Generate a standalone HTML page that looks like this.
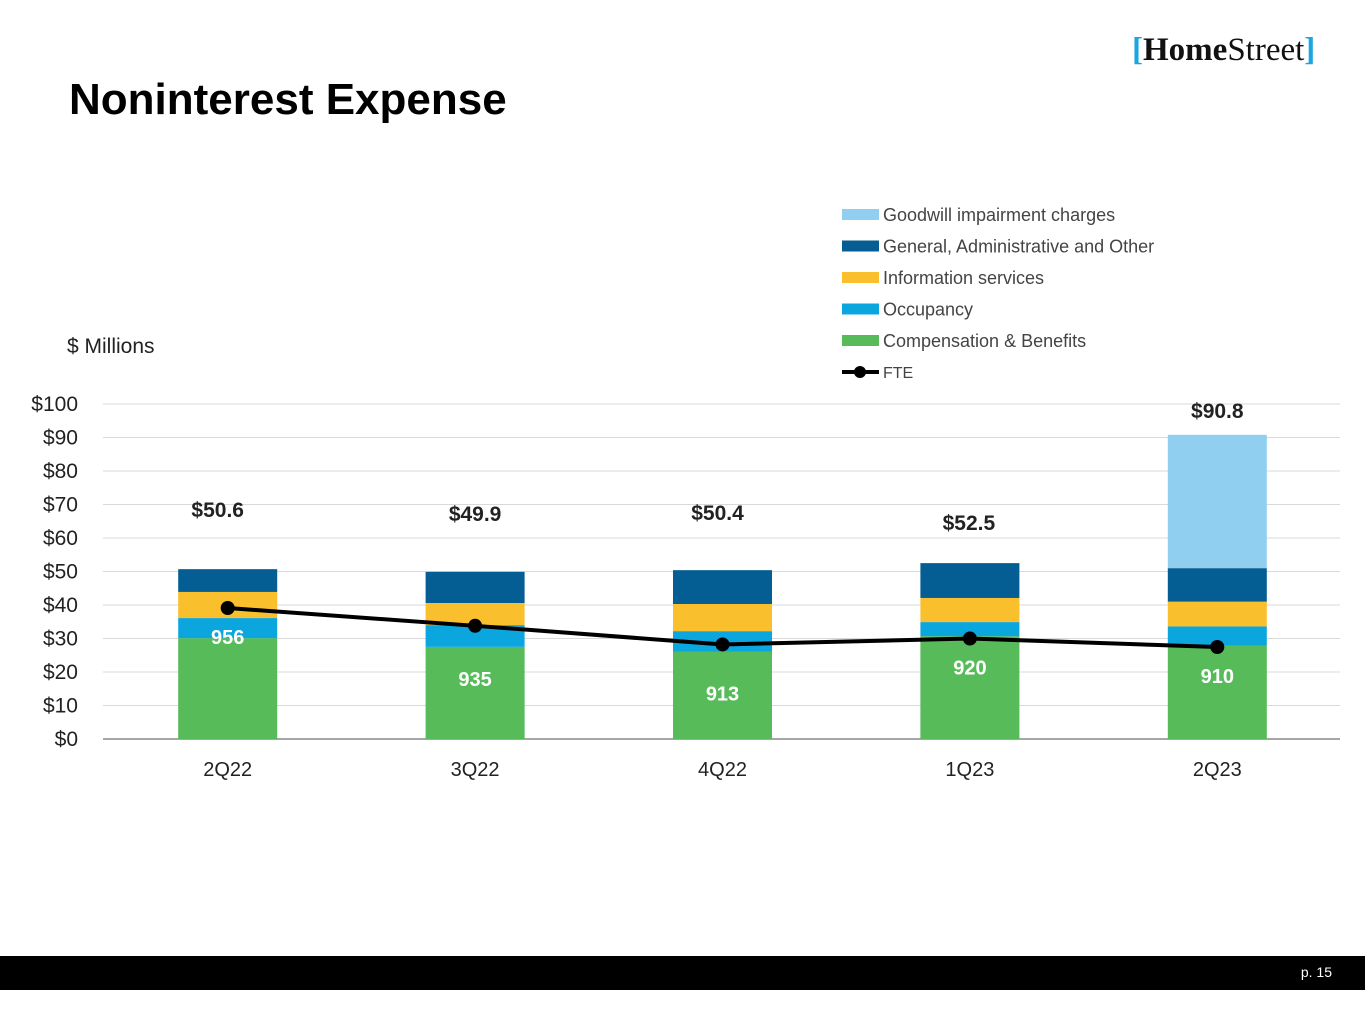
<!DOCTYPE html>
<html><head><meta charset="utf-8"><style>
body{margin:0;width:1365px;height:1024px;background:#fff;position:relative;overflow:hidden;font-family:"Liberation Sans",sans-serif}
#title{position:absolute;left:69px;top:75px;font-size:44px;font-weight:bold;color:#000;margin:0}
#logo{position:absolute;left:1132px;top:32px;font-family:"Liberation Serif",serif;font-size:33px;color:#111}
#logo .br{color:#1aa7e0;font-weight:bold}
#footer{position:absolute;left:0;top:956px;width:1365px;height:34px;background:#000}
#page{position:absolute;right:33px;top:964px;color:#fff;font-size:14px}
</style></head><body>
<h1 id="title">Noninterest Expense</h1>
<div id="logo"><span class="br">[</span><b>Home</b>Street<span class="br">]</span></div>
<svg id="chart" width="1365" height="1024" style="position:absolute;left:0;top:0"></svg>
<div id="footer"></div>
<div id="page">p. 15</div>
<script>
const categories=["2Q22","3Q22","4Q22","1Q23","2Q23"];
const compensation=[30.1,27.5,26.0,30.7,27.8];
const occupancy=[6.0,6.5,6.2,4.2,5.8];
const infoServices=[7.8,6.6,8.1,7.2,7.4];
const genAdmin=[6.8,9.3,10.1,10.4,10.0];
const goodwill=[0,0,0,0,39.8];
const totals=["$50.6","$49.9","$50.4","$52.5","$90.8"];
const fte=[956,935,913,920,910];
const yTicks=[0,10,20,30,40,50,60,70,80,90,100];
const series=[
 {name:"Compensation & Benefits",vals:compensation,color:"#57bb5a"},
 {name:"Occupancy",vals:occupancy,color:"#0ca6df"},
 {name:"Information services",vals:infoServices,color:"#f9bf2c"},
 {name:"General, Administrative and Other",vals:genAdmin,color:"#045d93"},
 {name:"Goodwill impairment charges",vals:goodwill,color:"#91cff0"}];
const NS="http://www.w3.org/2000/svg",svg=document.getElementById('chart');
function el(t,a,p){const e=document.createElementNS(NS,t);for(const k in a)e.setAttribute(k,a[k]);(p||svg).appendChild(e);return e;}
const x0=103,x1=1340,y0=739,yTop=404;
const y=v=>y0-(v/100)*(y0-yTop);
const slot=(x1-x0)/categories.length;
const xc=i=>x0+slot*(i+0.5)+1;
const yF=f=>608+(956-f)*0.848;
yTicks.forEach(t=>{
 const l=el('line',{x1:x0,x2:x1,y1:y(t),y2:y(t),stroke:t===0?'#888':'#d9d9d9','stroke-width':t===0?1.5:1});
 
 const tx=el('text',{x:78,y:y(t)+7,'text-anchor':'end','font-size':21,fill:'#222'});tx.textContent='$'+t;
 
});
const bw=99;
categories.forEach((c,i)=>{
 let acc=0;
 series.forEach(s=>{const v=s.vals[i];if(v>0){const r=el('rect',{x:xc(i)-bw/2,y:y(acc+v),width:bw,height:y(acc)-y(acc+v),fill:s.color});
  }acc+=v;});
 const xl=el('text',{x:xc(i),y:776,'text-anchor':'middle','font-size':20,fill:'#222'});xl.textContent=c;
 
});
const totalY=[517,521,520,530,418];
const totalX=[-10,0,-5,-1,0];
categories.forEach((c,i)=>{
 const t=el('text',{x:xc(i)+totalX[i],y:totalY[i],'text-anchor':'middle','font-size':21,'font-weight':'bold',fill:'#222'});t.textContent=totals[i];
 
});
el('polyline',{points:fte.map((f,i)=>xc(i)+','+yF(f)).join(' '),fill:'none',stroke:'#000','stroke-width':4});
fte.forEach((f,i)=>{
 const c=el('circle',{cx:xc(i),cy:yF(f),r:7,fill:'#000'});
 
 const off=[36,60,56,36,36][i];
 const t=el('text',{x:xc(i),y:yF(f)+off,'text-anchor':'middle','font-size':20,'font-weight':'bold',fill:'#fff'});t.textContent=f;
 
});
const um=el('text',{x:67,y:353,'font-size':21,fill:'#222'});um.textContent='$ Millions';

const leg=[...series].reverse();
leg.forEach((s,k)=>{const ly=215+k*31.5;
 const r=el('rect',{x:842,y:ly-6,width:37,height:11,fill:s.color});
 
 const t=el('text',{x:883,y:ly+6,'font-size':18,fill:'#444'});t.textContent=s.name;
 });
el('line',{x1:842,x2:879,y1:372,y2:372,stroke:'#000','stroke-width':4});
el('circle',{cx:860,cy:372,r:6,fill:'#000'});
const ft=el('text',{x:883,y:378,'font-size':16,fill:'#444'});ft.textContent='FTE';

</script>
</body></html>
